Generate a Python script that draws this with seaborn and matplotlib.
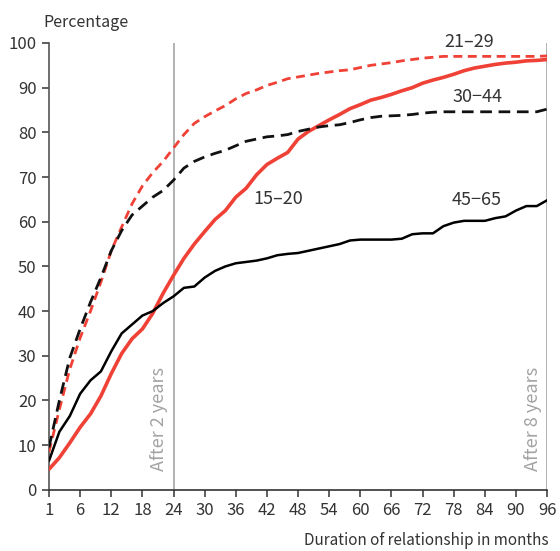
import numpy as np
import pandas as pd
import matplotlib
matplotlib.use("Agg")
import matplotlib.pyplot as plt
import seaborn as sns

months = list(range(0, 97, 2))
tick_pos = list(range(0, 97, 6))
tick_labels = ["1"] + [str(v) for v in range(6, 97, 6)]

age_15_20 = [4.6, 7.2, 10.5, 14, 17, 21, 26, 30.5, 33.8, 36, 39.5, 44, 48, 51.8, 55, 57.8,
             60.5, 62.5, 65.5, 67.5, 70.5, 72.8, 74.2, 75.5, 78.5, 80.2, 81.5, 82.8, 84,
             85.3, 86.2, 87.2, 87.8, 88.5, 89.3, 90, 91, 91.7, 92.3, 93, 93.8, 94.4, 94.8,
             95.2, 95.5, 95.7, 96, 96.1, 96.3]
age_21_29 = [8.5, 18, 27, 34, 40, 46.5, 53.5, 58.8, 64, 68, 71, 73.5, 76.5, 79.5, 82, 83.5,
             84.8, 86, 87.5, 88.7, 89.5, 90.5, 91.2, 92, 92.4, 92.8, 93.2, 93.5, 93.8, 94,
             94.5, 95, 95.3, 95.6, 96, 96.3, 96.6, 96.8, 97, 97, 97, 97, 97, 97, 97, 97,
             97, 97, 97.1]
age_30_44 = [9.5, 20, 29.5, 36, 42, 47.5, 53.5, 58, 61.5, 63.5, 65.5, 67, 69.3, 72, 73.5,
             74.5, 75.3, 76, 77, 78, 78.5, 79, 79.2, 79.5, 80.2, 80.7, 81.2, 81.5, 81.7,
             82.2, 82.8, 83.3, 83.6, 83.7, 83.8, 84, 84.3, 84.5, 84.6, 84.6, 84.6, 84.6,
             84.6, 84.6, 84.6, 84.6, 84.6, 84.6, 85.2]
age_45_65 = [6.5, 13, 16.5, 21.5, 24.5, 26.5, 31, 35, 37, 39, 40, 41.8, 43.3, 45.2, 45.5,
             47.5, 49, 50, 50.7, 51, 51.3, 51.8, 52.5, 52.8, 53, 53.5, 54, 54.5, 55, 55.8,
             56, 56, 56, 56, 56.2, 57.2, 57.4, 57.4, 59, 59.8, 60.2, 60.2, 60.2, 60.8, 61.2,
             62.5, 63.5, 63.5, 64.8]

series_names = ["15–20", "21–29", "30−44", "45−65"]
series_values = [age_15_20, age_21_29, age_30_44, age_45_65]

rows = []
for name, vals in zip(series_names, series_values):
    for m, v in zip(months, vals):
        rows.append({"month": m, "pct": v, "group": name})
df = pd.DataFrame(rows)

sns.set_style("ticks")
plt.rcParams["font.family"] = ["Noto Sans CJK KR", "DejaVu Sans"]

RED = "#ef4136"
styles = {
    "15–20": dict(color=RED, lw=2.6, ls="-"),
    "21–29": dict(color=RED, lw=2.0, ls=(0, (3.2, 2.0))),
    "30−44": dict(color="#111111", lw=2.0, ls=(0, (4.2, 2.4))),
    "45−65": dict(color="#000000", lw=1.8, ls="-"),
}

fig = plt.figure(figsize=(5.6, 5.51), dpi=100)
ax = fig.add_axes([0.0875, 0.111, 0.8895, 0.811])

ax.axvline(24, color="#a6a6a6", lw=1.2, zorder=1)
ax.axvline(96, color="#a6a6a6", lw=1.2, zorder=1)

for name in series_names:
    st = styles[name]
    sns.lineplot(data=df[df["group"] == name], x="month", y="pct", ax=ax,
                 color=st["color"], linewidth=st["lw"], linestyle=st["ls"],
                 legend=False, zorder=3)

ax.set_xlim(0, 96)
ax.set_ylim(0, 100)
ax.set_xticks(tick_pos)
ax.set_xticklabels(tick_labels)
ax.set_yticks(range(0, 101, 10))
ax.set_xlabel("")
ax.set_ylabel("")
for s in ["top", "right"]:
    ax.spines[s].set_visible(False)
ax.spines["left"].set_color("#555555")
ax.spines["bottom"].set_color("#333333")
ax.spines["left"].set_linewidth(1.2)
ax.spines["bottom"].set_linewidth(1.2)
ax.tick_params(axis="both", labelsize=12, colors="#333333", length=5, width=1.1,
               labelcolor="#333333", pad=4)

txt = "#333333"
ax.text(-1, 104.6, "Percentage", fontsize=11.5, color=txt, ha="left", va="center", clip_on=False)
ax.text(96.3, -11.4, "Duration of relationship in months", fontsize=11, color=txt,
        ha="right", va="center", clip_on=False)
ax.text(23.0, 4.3, "After 2 years", rotation=90, fontsize=13, color="#a3a3a3",
        ha="right", va="bottom")
ax.text(95.0, 4.3, "After 8 years", rotation=90, fontsize=13, color="#a3a3a3",
        ha="right", va="bottom")

ax.text(81, 100.3, "21–29", fontsize=13, color=txt, ha="center", va="center", clip_on=False)
ax.text(82.5, 87.8, "30−44", fontsize=13, color=txt, ha="center", va="center")
ax.text(44.1, 65.0, "15–20", fontsize=13, color=txt, ha="center", va="center")
ax.text(82.5, 64.8, "45−65", fontsize=13, color=txt, ha="center", va="center")

fig.savefig("out.png", dpi=100)
